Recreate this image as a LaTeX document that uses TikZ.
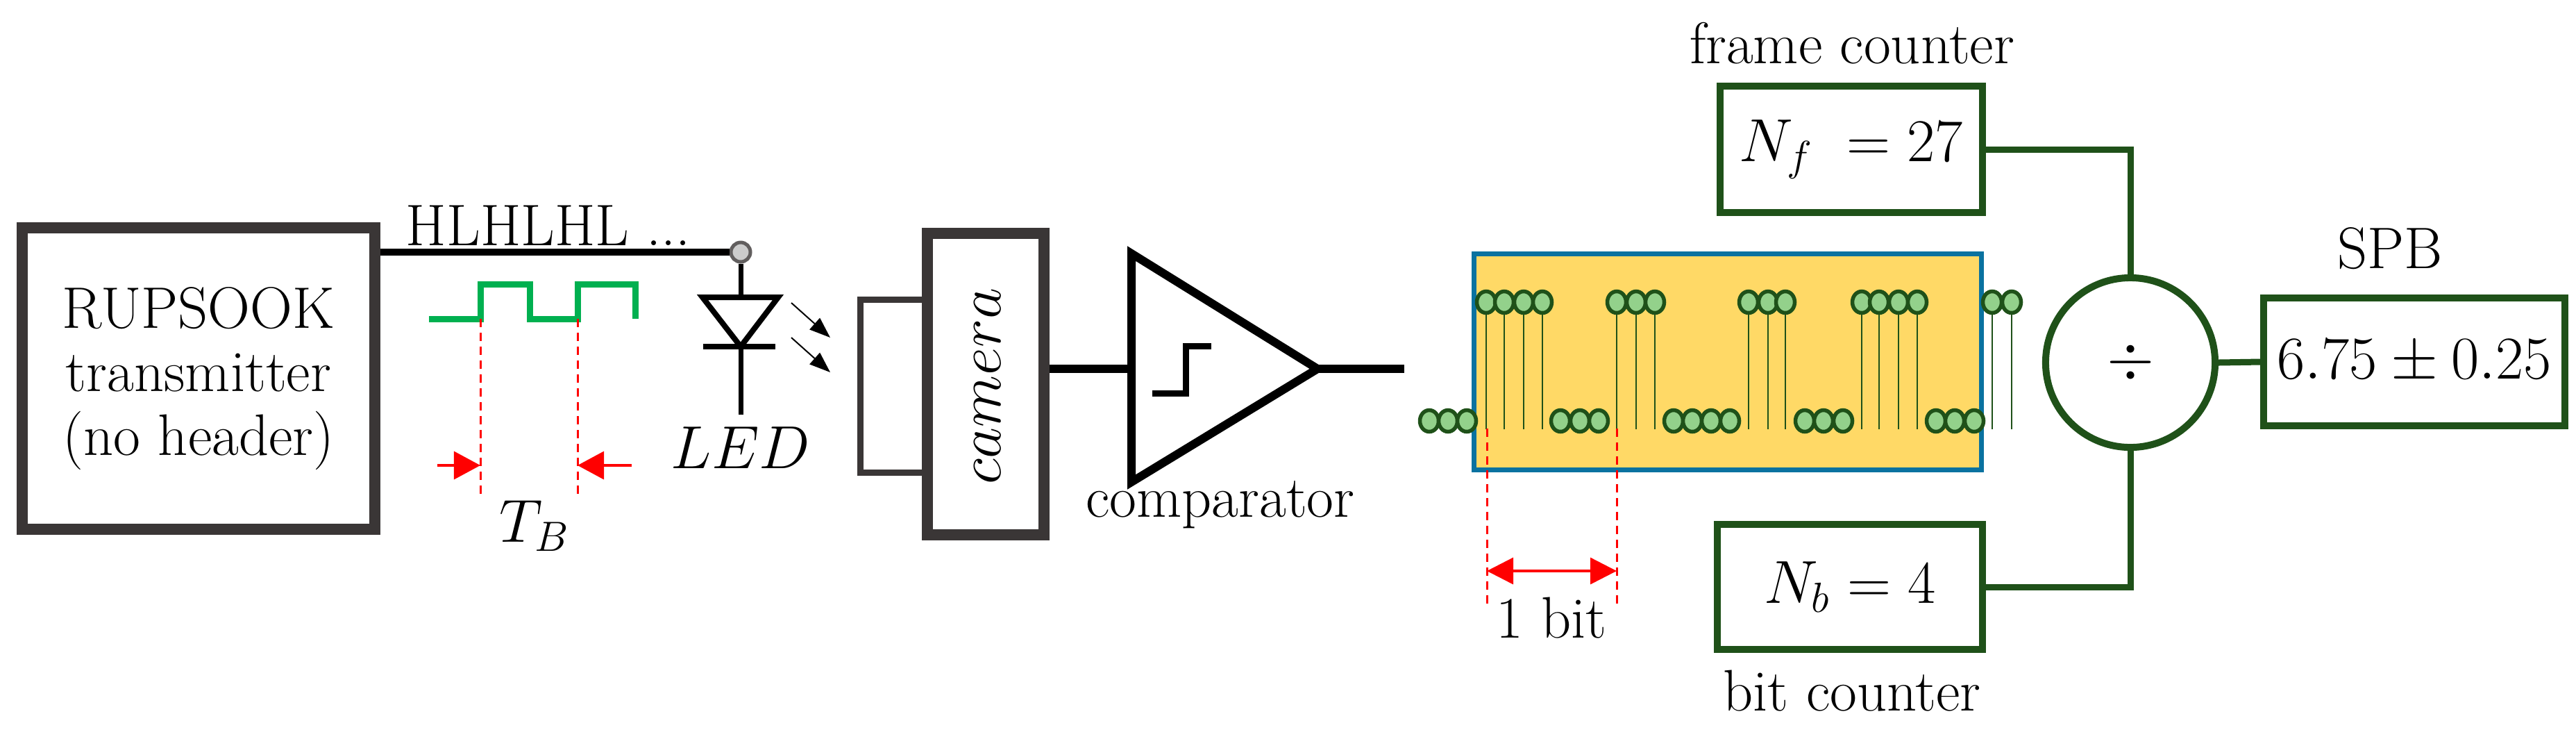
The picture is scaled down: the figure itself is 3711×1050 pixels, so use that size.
\documentclass[tikz,border=0pt]{standalone}
\usetikzlibrary{arrows.meta,shapes.geometric}
\definecolor{boxgray}{HTML}{3A3636}
\definecolor{wavegreen}{HTML}{00B050}
\definecolor{dkgreen}{HTML}{1F5119}
\definecolor{dotfill}{HTML}{93D18B}
\definecolor{ylw}{HTML}{FFD966}
\definecolor{blu}{HTML}{0A72A0}
\begin{document}
\begin{tikzpicture}[x=0.01cm,y=-0.01cm,
  txt/.style={font=\fontsize{24}{28}\selectfont, inner sep=0pt, align=center},
  gbox/.style={draw=dkgreen, line width=0.1cm, fill=white},
  gline/.style={draw=dkgreen, line width=0.09cm},
  wire/.style={line width=0.1cm, black},
  reddash/.style={red, line width=0.03cm, dash pattern=on 0.12cm off 0.08cm},
  redarr/.style={red, line width=0.035cm, -{Triangle[width=0.4cm,length=0.38cm]}},
  hdot/.style={ellipse, draw=dkgreen, fill=dotfill, line width=0.055cm, minimum width=0.27cm, minimum height=0.31cm, inner sep=0pt},
  stem/.style={dkgreen, line width=0.025cm}]
\useasboundingbox (0,0) rectangle (3711,1050);
% transmitter
\node[draw=boxgray, line width=0.16cm, minimum width=5.07cm, minimum height=4.33cm, txt] (tx) at (286,545) {RUPSOOK\\[-2pt] transmitter\\[-2pt] (no header)};
\node[circle, draw=boxgray!80, fill=gray!40, line width=0.05cm, minimum size=0.28cm, inner sep=0pt] (pin) at (1067,363) {};
\draw[wire] (tx.east |- pin) -- (pin.west);
\node[txt, anchor=base] (hl) at (790,353) {HLHLHL ...};
% square wave
\draw[wavegreen, line width=0.09cm] (618,459) -- (692,459) -- (692,409) -- (763,409) -- (763,459) -- (832,459) -- (832,409) -- (915,409) -- (915,459);
\coordinate (d1t) at (692,459); \coordinate (d1b) at (692,717);
\coordinate (d2t) at (832,459); \coordinate (d2b) at (832,717);
\draw[reddash] (d1t) -- (d1b);
\draw[reddash] (d2t) -- (d2b);
\coordinate (a1s) at (630,670); \coordinate (a1e) at (692,670);
\coordinate (a2s) at (910,670); \coordinate (a2e) at (832,670);
\draw[redarr] (a1s) -- (a1e);
\draw[redarr] (a2s) -- (a2e);
\node[txt] (tb) at (770,757) {$T_B$};
% LED
\coordinate (ledtop) at (1067,426);
\coordinate (ledapex) at (1067,499);
\coordinate (ledbot) at (1067,597);
\draw[line width=0.07cm] (pin.south) -- (ledtop);
\draw[line width=0.08cm] (1012,428) -- (1121,428) -- (ledapex) -- cycle;
\draw[line width=0.08cm] (1013,499) -- (1117,499);
\draw[line width=0.07cm] (ledapex) -- (ledbot);
\node[txt] (led) at (1067,645) {$LED$};
\coordinate (e1s) at (1140,436); \coordinate (e1e) at (1196,486);
\coordinate (e2s) at (1140,486); \coordinate (e2e) at (1196,536);
\draw[line width=0.02cm, -{Triangle[width=0.22cm,length=0.3cm]}] (e1s) -- (e1e);
\draw[line width=0.02cm, -{Triangle[width=0.22cm,length=0.3cm]}] (e2s) -- (e2e);
% camera
\node[draw=boxgray, line width=0.09cm, minimum width=0.97cm, minimum height=2.49cm, inner sep=0pt] (lens) at (1288,556) {};
\node[draw=boxgray, fill=white, line width=0.16cm, minimum width=1.67cm, minimum height=4.34cm, inner sep=0pt] (cam) at (1420,553) {};
\node[txt, rotate=90] (camt) at (1423,556) {\fontsize{28}{30}\selectfont$camera$};
% comparator
\coordinate (cl1) at (1630,365); \coordinate (cl2) at (1630,694); \coordinate (capex) at (1898,531);
\draw[line width=0.12cm, line join=miter] (cl1) -- (capex) -- (cl2) -- cycle;
\coordinate (cin) at (1630,531); \coordinate (cout) at (2023,531);
\draw[wire, line width=0.12cm] (cam.east |- cin) -- (cin);
\draw[wire, line width=0.12cm] (capex) -- (cout);
\draw[line width=0.09cm] (1660,566) -- (1708,566) -- (1708,498) -- (1745,498);
\node[txt] (comp) at (1758,727) {comparator};
% samples
\node[draw=blu, fill=ylw, line width=0.07cm, minimum width=7.3cm, minimum height=3.1cm, inner sep=0pt] (sig) at (2489,521) {};
\coordinate (stembot) at (0,618);
\foreach \x [count=\i] in {2141,2167,2195,2222,2329,2357,2384,2519,2547,2572,2682,2707,2735,2762,2870,2898}{
  \node[hdot] (h\i) at (\x,435) {};
  \draw[stem] (h\i.south) -- (h\i.south |- stembot);
}
\foreach \x [count=\i] in {2059,2086,2113,2248,2276,2303,2411,2438,2465,2492,2600,2627,2655,2789,2816,2844}{
  \node[hdot] (l\i) at (\x,606) {};
}
\coordinate (b1t) at (2142,617); \coordinate (b1b) at (2142,870);
\coordinate (b2t) at (2329,617); \coordinate (b2b) at (2329,870);
\draw[reddash] (b1t) -- (b1b);
\draw[reddash] (b2t) -- (b2b);
\draw[red, line width=0.035cm, {Triangle[width=0.38cm,length=0.38cm]}-{Triangle[width=0.38cm,length=0.38cm]}] (b1t |- 0,822) coordinate (bl) -- (b2t |- 0,822) coordinate (br);
\node[txt] (bit) at (2235,890) {1 bit};
% counters
\node[gbox, minimum width=3.77cm, minimum height=1.81cm, txt] (nf) at (2667,215) {$N_f\;=27$};
\node[txt] (fc) at (2668,62) {frame counter};
\node[gbox, minimum width=3.81cm, minimum height=1.79cm, txt] (nb) at (2665,845) {$N_b=4$};
\node[txt] (bc) at (2668,995) {bit counter};
\node[circle, draw=dkgreen, line width=0.1cm, minimum size=2.44cm, inner sep=0pt, txt] (div) at (3069,522) {\fontsize{36}{40}\selectfont$\div$};
\node[gbox, minimum width=4.33cm, minimum height=1.83cm, txt] (spb) at (3478,521) {$6.75\pm 0.25$};
\node[txt] (spbt) at (3443,358) {SPB};
\draw[gline] (nf.east) -- (div.north |- nf.east) -- (div.north);
\draw[gline] (nb.east) -- (div.south |- nb.east) -- (div.south);
\draw[gline] (div.east) -- (spb.west);
\end{tikzpicture}
\end{document}
